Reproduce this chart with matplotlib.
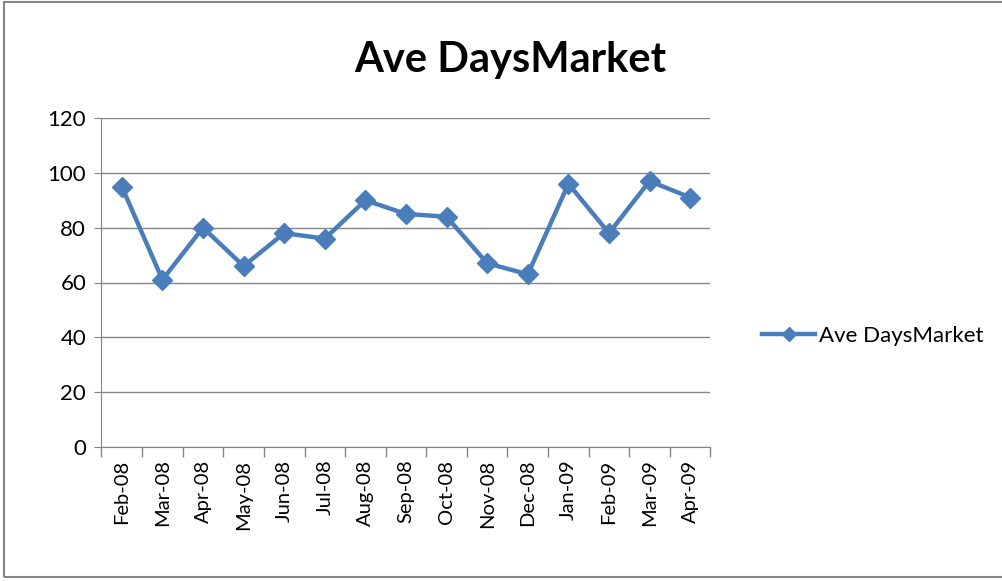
import matplotlib.pyplot as plt
from matplotlib.patches import Rectangle
from matplotlib.ticker import FixedLocator, NullFormatter

months = ['Feb-08', 'Mar-08', 'Apr-08', 'May-08', 'Jun-08', 'Jul-08', 'Aug-08', 'Sep-08',
          'Oct-08', 'Nov-08', 'Dec-08', 'Jan-09', 'Feb-09', 'Mar-09', 'Apr-09']
days = [95, 61, 80, 66, 78, 76, 90, 85, 84, 67, 63, 96, 78, 97, 91]
yticks = [0, 20, 40, 60, 80, 100, 120]

plt.rcParams['font.family'] = ['Lato', 'DejaVu Sans']

fig = plt.figure(figsize=(10.03, 5.81), dpi=100)
W, H = 1003, 581
ax = fig.add_axes([101.5 / W, 1 - 447 / H, (710.5 - 101.5) / W, (447 - 118) / H])

x = list(range(len(months)))
ax.plot(x, days, color='#4a7ebb', lw=3.2, marker='D', markersize=10,
        label='Ave DaysMarket')

ax.set_xlim(-0.5, len(months) - 0.5)
ax.set_ylim(0, 120)
ax.set_yticks(yticks)
ax.set_xticks(x)
ax.set_xticklabels(months, rotation=90, fontsize=14.5)
ax.tick_params(axis='x', length=0, pad=9)
ax.xaxis.set_minor_locator(FixedLocator([i - 0.5 for i in range(len(months) + 1)]))
ax.xaxis.set_minor_formatter(NullFormatter())
ax.tick_params(axis='x', which='minor', length=7, color='#868686', width=1)
ax.tick_params(axis='y', length=5, color='#868686', labelsize=16, pad=6)
ax.grid(axis='y', color='#868686', lw=1)
ax.set_axisbelow(True)
for s in ['top', 'right']:
    ax.spines[s].set_visible(False)
for s in ['left', 'bottom']:
    ax.spines[s].set_color('#868686')

fig.text(510 / W, 1 - 60 / H, 'Ave DaysMarket', fontsize=30, fontweight='bold',
         ha='center', va='center')

fig.legend(loc='center left', bbox_to_anchor=(742 / W, 1 - 336 / H), frameon=False,
           fontsize=16, handlelength=2.4, handletextpad=0.15, markerscale=0.7)

fig.patches.append(Rectangle((4 / W, 4 / H), 1.2, 1 - 6 / H, transform=fig.transFigure,
                             fill=False, edgecolor='#868686', lw=1.5))

fig.savefig('out.png', dpi=100)
